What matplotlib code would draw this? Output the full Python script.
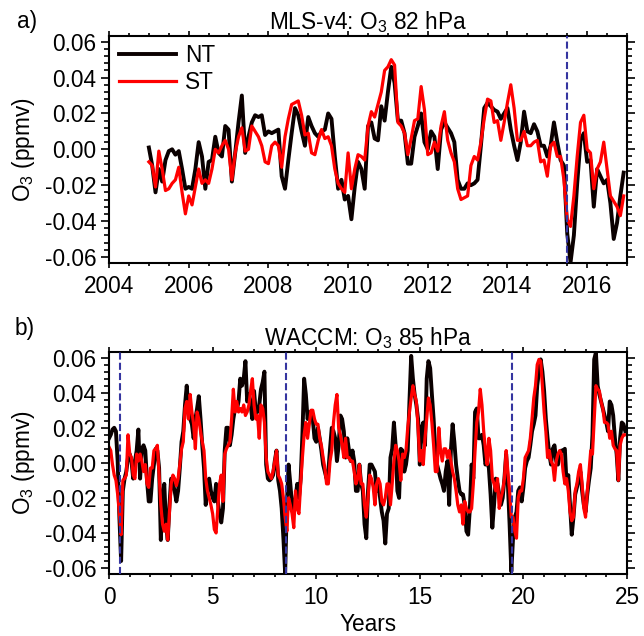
import numpy as np
import matplotlib
matplotlib.use("Agg")
import matplotlib.pyplot as plt
from matplotlib.ticker import MultipleLocator

# ---- data (ppmv anomalies, monthly) ----
# panel a: MLS-v4, Jan 2005 .. Dec 2016
mls_start = 2005.0
mls_nt = [
    0.001, -0.009, -0.024, -0.011, -0.018, -0.006, -0.001, 0.000, -0.003, -0.001,
    -0.011, -0.022, -0.021, -0.022, -0.011, 0.004, -0.004, -0.022, -0.007, -0.006,
    0.007, -0.002, -0.004, 0.013, 0.011, -0.018, -0.002, 0.015, 0.030, -0.002,
    0.007, 0.015, 0.019, 0.018, 0.019, 0.008, 0.010, 0.009, 0.010, 0.011,
    -0.015, -0.022, -0.006, 0.009, 0.023, 0.019, 0.010, 0.002, 0.018, 0.013,
    0.009, 0.007, 0.010, 0.011, 0.020, 0.017, -0.004, -0.022, -0.017, -0.028,
    -0.026, -0.039, -0.021, -0.007, -0.011, -0.022, 0.013, 0.015, 0.006, 0.005,
    0.024, 0.016, 0.032, 0.046, 0.037, 0.016, 0.016, 0.009, -0.008, -0.008,
    0.007, 0.013, 0.020, 0.004, 0.000, 0.010, 0.007, -0.011, 0.011, 0.015,
    0.012, 0.009, 0.004, -0.017, -0.022, -0.022, -0.019, -0.020, -0.019, -0.017,
    0.002, 0.023, 0.026, 0.024, 0.022, 0.021, 0.017, 0.020, 0.023, 0.011,
    0.002, -0.006, 0.004, 0.021, 0.010, 0.009, 0.014, 0.010, 0.002, 0.002,
    -0.004, 0.002, 0.015, 0.004, -0.006, -0.009, -0.047, -0.063, -0.048, -0.019,
    0.005, 0.009, -0.007, -0.006, -0.032, -0.011, -0.015, -0.019, -0.017, -0.030,
    -0.050, -0.041, -0.026, -0.013,
]
mls_st = [
    -0.007, -0.009, -0.021, -0.001, -0.011, -0.023, -0.022, -0.019, -0.017, -0.010,
    -0.024, -0.036, -0.026, -0.031, -0.021, -0.011, -0.019, -0.017, -0.019, -0.011,
    0.000, -0.002, 0.002, 0.005, 0.000, -0.017, -0.002, 0.007, 0.012, -0.001,
    0.000, 0.013, 0.010, 0.007, 0.002, -0.007, -0.008, 0.002, 0.004, 0.002,
    -0.010, 0.007, 0.017, 0.025, 0.026, 0.027, 0.019, 0.008, 0.009, -0.002,
    -0.003, 0.005, 0.011, 0.006, 0.007, 0.002, -0.011, -0.019, -0.022, -0.024,
    -0.002, -0.022, -0.011, -0.003, -0.004, -0.006, 0.013, 0.021, 0.018, 0.025,
    0.032, 0.044, 0.046, 0.050, 0.047, 0.015, 0.013, 0.009, -0.003, 0.006,
    0.016, 0.017, 0.035, 0.022, -0.003, -0.002, 0.004, -0.001, 0.013, 0.021,
    0.005, -0.002, -0.007, -0.022, -0.028, -0.027, -0.026, -0.009, -0.004, -0.006,
    0.004, 0.017, 0.028, 0.027, 0.015, 0.016, 0.005, 0.015, 0.026, 0.036,
    0.023, 0.005, 0.005, 0.010, 0.002, 0.002, 0.004, 0.005, -0.007, -0.006,
    -0.015, 0.002, 0.004, -0.004, -0.004, -0.017, -0.039, -0.043, -0.026, -0.004,
    0.015, 0.019, 0.000, -0.002, -0.022, -0.011, -0.007, 0.004, -0.011, -0.026,
    -0.029, -0.032, -0.037, -0.026,
]
mls_events = [2015.5]

# panel b: WACCM, 25 model years, monthly
waccm_nt = [
    0.014, 0.016, 0.019, 0.020, 0.018, 0.001, -0.031, -0.056, -0.016, -0.009,
    -0.005, 0.003, 0.005, 0.001, -0.009, 0.001, 0.007, 0.019, -0.009, 0.008,
    0.010, 0.007, -0.010, -0.022, -0.022, -0.009, -0.001, 0.008, 0.007, -0.003,
    -0.044, -0.020, -0.012, -0.035, -0.044, -0.024, -0.009, -0.012, -0.016, -0.022,
    -0.016, -0.003, 0.012, 0.018, 0.033, 0.044, 0.031, 0.025, 0.022, 0.014,
    0.025, 0.031, 0.038, 0.025, 0.010, -0.003, -0.024, -0.012, -0.009, -0.016,
    -0.020, -0.022, -0.012, -0.022, -0.029, -0.034, -0.026, 0.007, 0.020, 0.020,
    0.010, 0.016, 0.025, 0.031, 0.030, 0.035, 0.048, 0.044, 0.048, 0.058,
    0.035, 0.039, 0.033, 0.025, 0.041, 0.029, 0.029, 0.033, 0.042, 0.046,
    0.052, -0.001, -0.009, -0.010, -0.009, -0.007, 0.001, 0.007, -0.010, -0.016,
    -0.026, -0.043, -0.063, -0.024, -0.001, -0.012, -0.024, -0.028, -0.020, -0.012,
    -0.020, -0.009, 0.016, 0.048, 0.039, 0.025, 0.029, 0.027, 0.025, 0.014,
    0.012, 0.020, 0.014, 0.007, -0.001, -0.005, -0.009, -0.005, 0.008, 0.020,
    0.018, 0.014, 0.001, 0.010, 0.027, 0.025, 0.018, 0.003, 0.014, 0.007,
    0.001, 0.007, 0.001, -0.016, -0.016, -0.001, -0.012, -0.016, -0.035, -0.043,
    -0.016, -0.001, -0.001, -0.003, -0.005, -0.016, -0.012, -0.020, -0.028, -0.033,
    -0.046, -0.029, -0.026, 0.003, 0.008, 0.023, 0.010, -0.016, -0.020, 0.008,
    0.007, -0.005, -0.001, 0.007, 0.035, 0.061, 0.048, 0.039, 0.033, 0.025,
    -0.001, 0.020, 0.023, 0.010, 0.048, 0.058, 0.054, 0.039, 0.025, 0.007,
    -0.001, -0.005, -0.009, -0.012, -0.016, -0.005, 0.001, -0.024, 0.007, 0.022,
    0.012, -0.001, -0.009, -0.016, -0.018, -0.018, -0.024, -0.039, -0.041, -0.026,
    -0.001, -0.009, 0.029, 0.031, 0.014, 0.014, 0.016, 0.010, -0.001, 0.001,
    -0.003, -0.018, -0.037, -0.024, -0.009, -0.012, -0.018, -0.024, -0.020, -0.009,
    0.005, -0.012, -0.035, -0.062, -0.043, -0.031, -0.028, -0.016, -0.014, -0.022,
    -0.014, -0.003, 0.001, 0.003, 0.010, 0.018, 0.022, 0.027, 0.044, 0.052,
    0.059, 0.052, 0.041, 0.025, 0.014, 0.005, -0.001, 0.008, 0.010, 0.001,
    -0.001, 0.005, 0.007, 0.007, 0.008, -0.012, -0.007, -0.024, -0.041, -0.031,
    -0.018, -0.014, -0.009, -0.005, -0.016, -0.024, -0.028, -0.018, -0.010, -0.003,
    0.016, 0.059, 0.063, 0.044, 0.039, 0.035, 0.031, 0.027, 0.023, 0.018,
    0.035, 0.033, 0.027, 0.014, 0.005, -0.010, 0.014, 0.023, 0.022, 0.018,
]
waccm_st = [
    0.009, 0.007, -0.001, -0.007, -0.010, -0.018, -0.029, -0.041, -0.010, -0.009,
    -0.007, 0.016, 0.005, 0.003, -0.007, -0.009, 0.005, 0.001, 0.005, 0.001,
    -0.005, -0.001, -0.012, -0.014, -0.003, -0.003, 0.007, 0.008, 0.010, -0.007,
    -0.024, -0.035, -0.039, -0.035, -0.044, -0.028, -0.012, -0.007, -0.009, -0.013,
    -0.009, -0.001, 0.008, 0.012, 0.031, 0.035, 0.025, 0.039, 0.029, 0.022,
    0.008, 0.029, 0.025, 0.018, 0.012, 0.007, -0.009, -0.016, -0.020, -0.024,
    -0.029, -0.038, -0.040, -0.026, -0.012, -0.007, -0.022, 0.005, 0.008, 0.010,
    0.012, 0.025, 0.042, 0.029, 0.035, 0.029, 0.031, 0.029, 0.033, 0.027,
    0.029, 0.033, 0.041, 0.048, 0.033, 0.025, 0.027, 0.014, 0.033, 0.031,
    0.023, 0.003, -0.005, -0.007, -0.009, -0.005, 0.001, 0.007, -0.007, -0.009,
    -0.012, -0.020, -0.031, -0.039, -0.020, -0.024, -0.029, -0.037, -0.016, -0.026,
    -0.029, -0.012, 0.003, 0.016, 0.023, 0.014, 0.022, 0.030, 0.030, 0.025,
    0.022, 0.022, 0.014, 0.010, 0.003, -0.003, -0.012, -0.012, 0.001, 0.007,
    0.023, 0.033, 0.039, 0.020, 0.016, 0.010, 0.003, 0.014, 0.003, 0.003,
    0.001, 0.001, -0.005, -0.012, -0.009, -0.001, -0.012, -0.012, -0.024, -0.031,
    -0.020, -0.007, -0.009, -0.014, -0.024, -0.012, -0.009, -0.012, -0.022, -0.024,
    -0.020, -0.012, -0.012, -0.024, -0.012, 0.001, 0.010, 0.007, 0.001, -0.010,
    0.005, 0.003, 0.007, 0.020, 0.029, 0.037, 0.044, 0.039, 0.035, 0.020,
    0.001, 0.007, -0.001, 0.014, 0.025, 0.037, 0.033, 0.023, 0.010, -0.005,
    -0.005, 0.020, 0.007, 0.001, 0.008, 0.008, 0.003, 0.007, 0.001, -0.005,
    -0.009, -0.016, -0.024, -0.028, -0.024, -0.035, -0.022, -0.026, -0.028, -0.028,
    -0.026, -0.012, 0.007, 0.023, 0.029, 0.042, 0.033, 0.018, 0.008, -0.001,
    0.014, 0.007, -0.009, -0.012, -0.016, -0.009, -0.026, -0.020, -0.016, -0.009,
    0.007, -0.005, -0.016, -0.031, -0.031, -0.039, -0.043, -0.020, -0.016, -0.016,
    -0.009, 0.003, 0.005, 0.007, 0.014, 0.025, 0.037, 0.044, 0.056, 0.059,
    0.058, 0.044, 0.029, 0.018, 0.003, 0.007, 0.001, -0.001, -0.010, 0.001,
    0.005, 0.007, 0.005, -0.005, -0.012, -0.009, -0.016, -0.028, -0.033, -0.031,
    -0.016, -0.012, -0.005, -0.001, -0.012, -0.026, -0.031, -0.016, -0.005, 0.007,
    0.005, 0.025, 0.044, 0.042, 0.041, 0.035, 0.031, 0.023, 0.023, 0.022,
    0.014, 0.018, 0.010, 0.008, 0.007, -0.010, 0.010, 0.014, 0.016, 0.016,
]
waccm_events = [0.55, 8.55, 19.43]

FS = 16.3
plt.rcParams["font.family"] = ["Liberation Sans", "DejaVu Sans"]
plt.rcParams["mathtext.fontset"] = "custom"
plt.rcParams["mathtext.rm"] = "Liberation Sans"
plt.rcParams["mathtext.it"] = "Liberation Sans:italic"
plt.rcParams["font.size"] = FS

BLACK = "#0a0000"
RED = "#ff0000"
BLUE = "#3535a0"

fig = plt.figure(figsize=(6.44, 6.36), dpi=100)
ax1 = fig.add_axes([0.1693, 0.5865, 0.8043, 0.3569])
ax2 = fig.add_axes([0.1693, 0.0975, 0.8043, 0.349])

def style(ax, xmaj, xmin):
    for s in ax.spines.values():
        s.set_linewidth(1.5)
    ax.set_ylim(-0.0634, 0.0632)
    ax.yaxis.set_major_locator(MultipleLocator(0.02))
    ax.yaxis.set_minor_locator(MultipleLocator(0.004))
    ax.xaxis.set_major_locator(MultipleLocator(xmaj))
    ax.xaxis.set_minor_locator(MultipleLocator(xmin))
    ax.yaxis.set_major_formatter(lambda v, p: f"{v:.2f}".replace("-0.00", "0.00"))
    ax.tick_params(axis="both", which="both", direction="out", top=True, right=True,
                   width=1.2, labelsize=FS)
    ax.tick_params(axis="y", which="major", length=6, pad=3)
    ax.tick_params(axis="y", which="minor", length=3.5)
    ax.tick_params(axis="x", which="major", length=3.5, pad=5)
    ax.tick_params(axis="x", which="minor", length=2)
    ax.set_ylabel("O$_3$ (ppmv)", fontsize=FS)
    ax.yaxis.set_label_coords(-0.139, 0.5)

# panel a
t_mls = mls_start + np.arange(len(mls_nt)) / 12.0
ax1.plot(t_mls, mls_nt, color=BLACK, lw=2.8, label="NT")
ax1.plot(t_mls, mls_st, color=RED, lw=2.3, label="ST")
for e in mls_events:
    ax1.axvline(e, color=BLUE, lw=1.5, dashes=(3.4, 1.5), zorder=5)
ax1.set_xlim(2004, 2017)
style(ax1, 2, 0.5)
ax1.set_title("MLS-v4: O$_3$ 82 hPa", fontsize=FS, pad=5)
ax1.legend(loc="upper left", bbox_to_anchor=(0.02, 0.963), frameon=False,
           handlelength=2.5, handletextpad=0.4, labelspacing=0.14,
           borderaxespad=0, borderpad=0, fontsize=FS)
fig.text(0.026, 0.966, "a)", fontsize=FS, ha="left", va="center")

# panel b
t_waccm = np.arange(len(waccm_nt)) / 12.0
ax2.plot(t_waccm, waccm_nt, color=BLACK, lw=2.8)
ax2.plot(t_waccm, waccm_st, color=RED, lw=2.3)
for e in waccm_events:
    ax2.axvline(e, color=BLUE, lw=1.5, dashes=(3.4, 1.5), zorder=5)
ax2.set_xlim(0, 25)
style(ax2, 5, 1)
ax2.set_title("WACCM: O$_3$ 85 hPa", fontsize=FS, pad=5)
ax2.set_xlabel("Years", fontsize=FS, labelpad=3)
fig.text(0.023, 0.484, "b)", fontsize=FS, ha="left", va="center")

fig.savefig("out.png", dpi=100)
